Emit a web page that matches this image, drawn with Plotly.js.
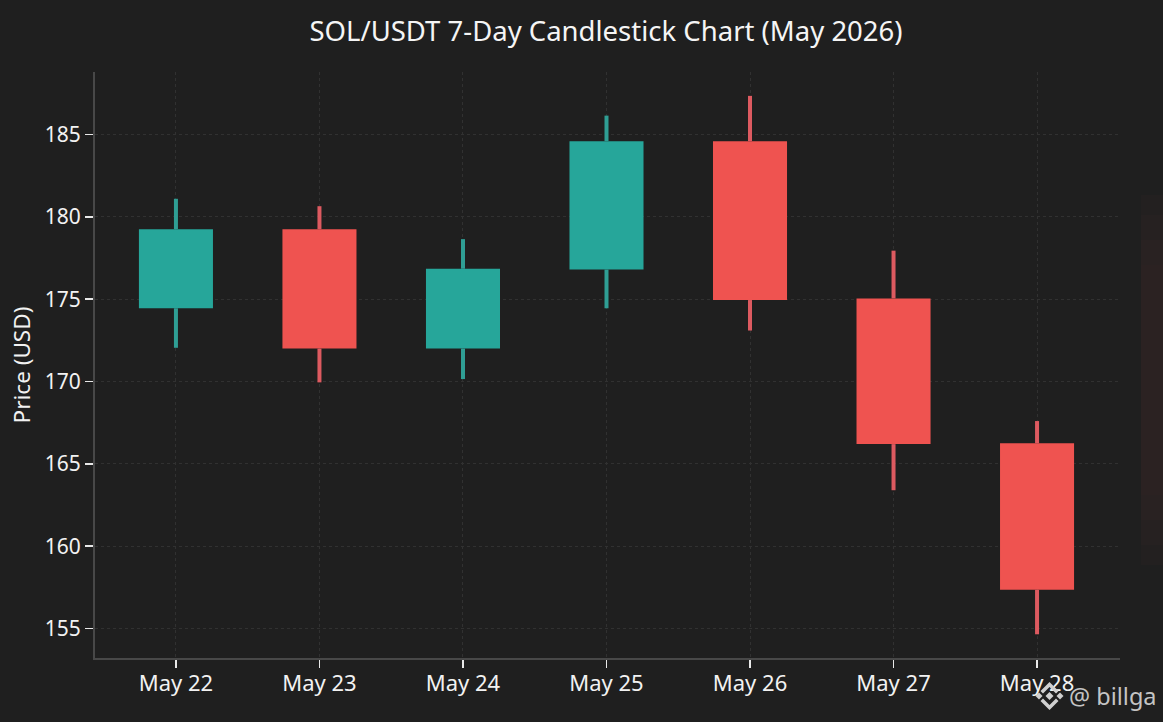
<!DOCTYPE html>
<html><head><meta charset="utf-8">
<script src="https://cdn.plot.ly/plotly-3.0.1.min.js"></script>
<style>html,body{margin:0;padding:0;background:#1f1f1f}#c{width:1163px;height:722px}</style>
</head><body><div id="c"></div>
<script>
const days = ["May 22","May 23","May 24","May 25","May 26","May 27","May 28"];
const open = [174.45,179.25,172.0,176.8,184.6,175.05,166.25];
const high = [181.1,180.65,178.65,186.15,187.35,177.95,167.6];
const low = [172.05,169.95,170.15,174.45,173.1,163.4,154.65];
const close = [179.25,172.0,176.85,184.6,174.95,166.2,157.35];
const yTicks = [155,160,165,170,175,180,185];
const upColor = "#26a69a", downColor = "#ef5350";
const wickColorUp = "#2f9e94", wickColorDown = "#dd5a60";

function wickTrace(isUp, color){
  const xs=[], ys=[];
  days.forEach((d,i)=>{
    if((close[i]>open[i])!==isUp) return;
    xs.push(d,d,null,d,d,null);
    ys.push(low[i],Math.min(open[i],close[i]),null,Math.max(open[i],close[i]),high[i],null);
  });
  return {type:"scatter", mode:"lines", x:xs, y:ys, showlegend:false, connectgaps:false,
    line:{color:color,width:4,shape:"linear"}};
}
const bodies = {type:"candlestick", x:days, open, high, low, close, showlegend:false,
  increasing:{line:{color:upColor,width:0},fillcolor:upColor},
  decreasing:{line:{color:downColor,width:0},fillcolor:downColor}};

const font = "'Noto Sans', Roboto, sans-serif";
const axisCommon = {showline:true, linecolor:"#484848", linewidth:2, ticks:"outside", ticklen:8, tickwidth:1.5,
  tickcolor:"#e8e8e8", gridcolor:"#313131", griddash:"3px,3px", gridwidth:1, zeroline:false,
  tickfont:{family:font,size:22,color:"#f2f2f2"}};

const px = v=>(v-95)/1025, py = v=>(658-v)/586;
const poly = pts=>"M "+pts.map(p=>px(p[0])+" "+py(p[1])).join(" L ")+" Z";
const dia = (x,y,r)=>poly([[x-r,y],[x,y+r],[x+r,y],[x,y-r]]);
const cx=1049.5, cy=696;
const logo = [dia(cx,cy,4), dia(cx-10.5,cy,3.5), dia(cx+10.5,cy,3.5),
  poly([[cx-9,cy-5],[cx,cy-14],[cx+9,cy-5],[cx+6.5,cy-2.5],[cx,cy-9],[cx-6.5,cy-2.5]]),
  poly([[cx-9,cy+5],[cx,cy+14],[cx+9,cy+5],[cx+6.5,cy+2.5],[cx,cy+9],[cx-6.5,cy+2.5]])];
const glow = (y0,y1,op)=>({type:"rect", xref:"paper", yref:"paper", x0:px(1141), x1:px(1163), y0:py(y1), y1:py(y0),
    fillcolor:"#3d2b27", opacity:op, line:{width:0}, layer:"below"});
const layout = {
  width:1163, height:722, paper_bgcolor:"#1f1f1f", plot_bgcolor:"#1f1f1f",
  margin:{l:95,r:43,t:72,b:64}, showlegend:false, boxgroupgap:0.263,
  font:{family:font,color:"#f2f2f2"},
  title:{text:"SOL/USDT 7-Day Candlestick Chart (May 2026)", font:{family:font,size:27.5,color:"#f5f5f5"},
    x:606/1163, xanchor:"center", xref:"container", y:1-31/722, yanchor:"middle"},
  xaxis:Object.assign({}, axisCommon, {type:"category", categoryorder:"array", categoryarray:days,
    range:[-0.564,6.578], rangeslider:{visible:false}, tickmode:"array", tickvals:days, ticktext:days, ticklabelstandoff:-3}),
  yaxis:Object.assign({}, axisCommon, {range:[153.21,188.8], tickmode:"array", tickvals:yTicks,
    tickfont:{family:font,size:21,color:"#f2f2f2"},
    title:{text:"Price (USD)", font:{family:font,size:22.5,color:"#f2f2f2"}, standoff:8}}),
  annotations:[{text:"@ billga", xref:"paper", yref:"paper", x:px(1067), y:py(696), xanchor:"left", yanchor:"middle",
    showarrow:false, font:{family:font,size:23.5,color:"#c4c4c4"}}],
  shapes:[glow(195,565,0.15),glow(215,545,0.15),glow(240,520,0.15),glow(265,495,0.15)]
    .concat(logo.map(p=>({type:"path", xref:"paper", yref:"paper", fillcolor:"#d0d0d0", line:{width:0}, path:p})))
};
Plotly.newPlot("c",[bodies,wickTrace(true,wickColorUp),wickTrace(false,wickColorDown)],layout,{displayModeBar:false,staticPlot:true});
</script></body></html>
